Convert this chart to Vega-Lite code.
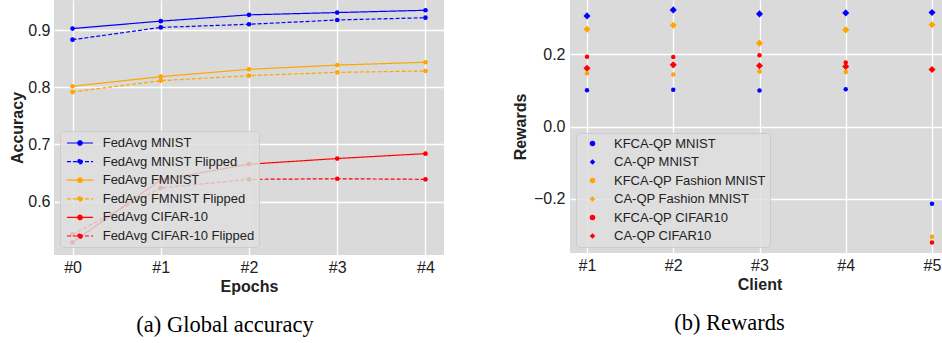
{
  "$schema": "https://vega.github.io/schema/vega-lite/v6.json",
  "background": "white",
  "padding": {"left": 9, "top": 0, "right": 0, "bottom": 0},
  "spacing": 68,
  "config": {
    "font": "Liberation Sans",
    "view": {"stroke": null, "fill": "#dadada"},
    "axis": {
      "gridColor": "white", "gridWidth": 1.3, "domain": false, "ticks": false,
      "labelFontSize": 16, "labelColor": "#222", "titleFontSize": 16,
      "titleFontWeight": "bold", "titleColor": "#222", "labelPadding": 4
    },
    "title": {"font": "Liberation Serif", "fontSize": 22.5, "fontWeight": "normal", "color": "black"}
  },
  "resolve": {"scale": {"color": "independent", "strokeDash": "independent", "shape": "independent"}, "legend": {"color": "independent"}},
  "datasets": {
    "acc": [
      {"epoch": "#0", "series": "FedAvg MNIST", "acc": 0.903},
      {"epoch": "#1", "series": "FedAvg MNIST", "acc": 0.916},
      {"epoch": "#2", "series": "FedAvg MNIST", "acc": 0.927},
      {"epoch": "#3", "series": "FedAvg MNIST", "acc": 0.931},
      {"epoch": "#4", "series": "FedAvg MNIST", "acc": 0.935},
      {"epoch": "#0", "series": "FedAvg MNIST Flipped", "acc": 0.8835},
      {"epoch": "#1", "series": "FedAvg MNIST Flipped", "acc": 0.905},
      {"epoch": "#2", "series": "FedAvg MNIST Flipped", "acc": 0.9105},
      {"epoch": "#3", "series": "FedAvg MNIST Flipped", "acc": 0.918},
      {"epoch": "#4", "series": "FedAvg MNIST Flipped", "acc": 0.922},
      {"epoch": "#0", "series": "FedAvg FMNIST", "acc": 0.802},
      {"epoch": "#1", "series": "FedAvg FMNIST", "acc": 0.8187},
      {"epoch": "#2", "series": "FedAvg FMNIST", "acc": 0.8316},
      {"epoch": "#3", "series": "FedAvg FMNIST", "acc": 0.839},
      {"epoch": "#4", "series": "FedAvg FMNIST", "acc": 0.844},
      {"epoch": "#0", "series": "FedAvg FMNIST Flipped", "acc": 0.792},
      {"epoch": "#1", "series": "FedAvg FMNIST Flipped", "acc": 0.8117},
      {"epoch": "#2", "series": "FedAvg FMNIST Flipped", "acc": 0.8205},
      {"epoch": "#3", "series": "FedAvg FMNIST Flipped", "acc": 0.8263},
      {"epoch": "#4", "series": "FedAvg FMNIST Flipped", "acc": 0.8287},
      {"epoch": "#0", "series": "FedAvg CIFAR-10", "acc": 0.5286},
      {"epoch": "#1", "series": "FedAvg CIFAR-10", "acc": 0.638},
      {"epoch": "#2", "series": "FedAvg CIFAR-10", "acc": 0.6655},
      {"epoch": "#3", "series": "FedAvg CIFAR-10", "acc": 0.6754},
      {"epoch": "#4", "series": "FedAvg CIFAR-10", "acc": 0.684},
      {"epoch": "#0", "series": "FedAvg CIFAR-10 Flipped", "acc": 0.5427},
      {"epoch": "#1", "series": "FedAvg CIFAR-10 Flipped", "acc": 0.624},
      {"epoch": "#2", "series": "FedAvg CIFAR-10 Flipped", "acc": 0.639},
      {"epoch": "#3", "series": "FedAvg CIFAR-10 Flipped", "acc": 0.64},
      {"epoch": "#4", "series": "FedAvg CIFAR-10 Flipped", "acc": 0.639}
    ],
    "rew": [
      {"client": "#1", "series": "KFCA-QP MNIST", "reward": 0.1006},
      {"client": "#2", "series": "KFCA-QP MNIST", "reward": 0.1015},
      {"client": "#3", "series": "KFCA-QP MNIST", "reward": 0.0996},
      {"client": "#4", "series": "KFCA-QP MNIST", "reward": 0.1033},
      {"client": "#5", "series": "KFCA-QP MNIST", "reward": -0.2137},
      {"client": "#1", "series": "CA-QP MNIST", "reward": 0.306},
      {"client": "#2", "series": "CA-QP MNIST", "reward": 0.3226},
      {"client": "#3", "series": "CA-QP MNIST", "reward": 0.3116},
      {"client": "#4", "series": "CA-QP MNIST", "reward": 0.3143},
      {"client": "#5", "series": "CA-QP MNIST", "reward": 0.3152},
      {"client": "#1", "series": "KFCA-QP Fashion MNIST", "reward": 0.147},
      {"client": "#2", "series": "KFCA-QP Fashion MNIST", "reward": 0.144},
      {"client": "#3", "series": "KFCA-QP Fashion MNIST", "reward": 0.152},
      {"client": "#4", "series": "KFCA-QP Fashion MNIST", "reward": 0.151},
      {"client": "#5", "series": "KFCA-QP Fashion MNIST", "reward": -0.305},
      {"client": "#1", "series": "CA-QP Fashion MNIST", "reward": 0.269},
      {"client": "#2", "series": "CA-QP Fashion MNIST", "reward": 0.28},
      {"client": "#3", "series": "CA-QP Fashion MNIST", "reward": 0.2306},
      {"client": "#4", "series": "CA-QP Fashion MNIST", "reward": 0.2674},
      {"client": "#5", "series": "CA-QP Fashion MNIST", "reward": 0.2815},
      {"client": "#1", "series": "KFCA-QP CIFAR10", "reward": 0.193},
      {"client": "#2", "series": "KFCA-QP CIFAR10", "reward": 0.192},
      {"client": "#3", "series": "KFCA-QP CIFAR10", "reward": 0.1974},
      {"client": "#4", "series": "KFCA-QP CIFAR10", "reward": 0.177},
      {"client": "#5", "series": "KFCA-QP CIFAR10", "reward": -0.3207},
      {"client": "#1", "series": "CA-QP CIFAR10", "reward": 0.161},
      {"client": "#2", "series": "CA-QP CIFAR10", "reward": 0.1706},
      {"client": "#3", "series": "CA-QP CIFAR10", "reward": 0.168},
      {"client": "#4", "series": "CA-QP CIFAR10", "reward": 0.166},
      {"client": "#5", "series": "CA-QP CIFAR10", "reward": 0.1577}
    ]
  },
  "hconcat": [
    {
      "width": 390,
      "height": 255,
      "title": {"text": "(a) Global accuracy", "orient": "bottom", "dx": -24, "offset": 20},
      "data": {"name": "acc"},
      "mark": {"type": "line", "strokeWidth": 1.2, "point": {"filled": true, "size": 22}},
      "encoding": {
        "x": {"field": "epoch", "type": "ordinal", "scale": {"type": "point", "padding": 0.21},
              "axis": {"title": "Epochs", "labelAngle": 0, "grid": true, "titlePadding": 3}},
        "y": {"field": "acc", "type": "quantitative", "scale": {"domain": [0.5065, 0.953], "nice": false, "zero": false},
              "axis": {"title": "Accuracy", "values": [0.6, 0.7, 0.8, 0.9], "format": ".1f", "titlePadding": 2}},
        "color": {"field": "series", "type": "nominal",
          "scale": {"domain": ["FedAvg MNIST", "FedAvg MNIST Flipped", "FedAvg FMNIST", "FedAvg FMNIST Flipped", "FedAvg CIFAR-10", "FedAvg CIFAR-10 Flipped"],
                    "range": ["#0000ff", "#0000ff", "#ffa500", "#ffa500", "#ff0000", "#ff0000"]},
          "legend": {"title": null, "orient": "none", "legendX": 6, "legendY": 131,
            "fillColor": "rgba(222,222,222,0.82)", "strokeColor": "#cccccc", "cornerRadius": 3, "padding": 4,
            "labelFontSize": 13, "labelColor": "#222", "rowPadding": 3.6,
            "symbolType": "M-1.86,0L1.86,0M0.32,0A0.32,0.32,0,1,1,-0.32,0A0.32,0.32,0,1,1,0.32,0Z",
            "symbolSize": 196, "symbolOffset": 8, "labelOffset": 14.7, "symbolStrokeWidth": 1.2,
            "encode": {"symbols": {"update": {"fill": {"signal": "indexof(datum.value, 'CIFAR') >= 0 ? '#ff0000' : (indexof(datum.value, 'FMNIST') >= 0 ? '#ffa500' : '#0000ff')"}}}}}},
        "strokeDash": {"field": "series", "type": "nominal",
          "scale": {"domain": ["FedAvg MNIST", "FedAvg MNIST Flipped", "FedAvg FMNIST", "FedAvg FMNIST Flipped", "FedAvg CIFAR-10", "FedAvg CIFAR-10 Flipped"],
                    "range": [[1, 0], [4, 2], [1, 0], [4, 2], [1, 0], [4, 2]]}}
      }
    },
    {
      "width": 379,
      "height": 253,
      "title": {"text": "(b) Rewards", "orient": "bottom", "dx": -30, "offset": 20},
      "data": {"name": "rew"},
      "encoding": {
        "x": {"field": "client", "type": "ordinal", "scale": {"type": "point", "padding": 0.197},
              "axis": {"title": "Client", "labelAngle": 0, "grid": true, "titlePadding": 3}},
        "y": {"field": "reward", "type": "quantitative", "scale": {"domain": [-0.35, 0.35], "nice": false, "zero": false},
              "axis": {"title": "Rewards", "values": [-0.2, 0, 0.2], "format": ".1f", "titlePadding": 5, "labelPadding": 5}},
        "color": {"field": "series", "type": "nominal",
          "scale": {"domain": ["KFCA-QP MNIST", "CA-QP MNIST", "KFCA-QP Fashion MNIST", "CA-QP Fashion MNIST", "KFCA-QP CIFAR10", "CA-QP CIFAR10"],
                    "range": ["#0000ff", "#0000ff", "#ffa500", "#ffa500", "#ff0000", "#ff0000"]},
          "legend": {"title": null, "orient": "none", "legendX": 6, "legendY": 133,
            "fillColor": "rgba(222,222,222,0.82)", "strokeColor": "#cccccc", "cornerRadius": 3, "padding": 4,
            "labelFontSize": 13, "labelColor": "#222", "rowPadding": 4.5, "symbolSize": 30,
            "symbolOffset": 6, "labelOffset": 15,
            "encode": {"symbols": {"update": {"size": {"signal": "indexof(datum.value, 'KFCA') == 0 ? 20 : 48"}}}}}},
        "shape": {"field": "series", "type": "nominal",
          "scale": {"domain": ["KFCA-QP MNIST", "CA-QP MNIST", "KFCA-QP Fashion MNIST", "CA-QP Fashion MNIST", "KFCA-QP CIFAR10", "CA-QP CIFAR10"],
                    "range": ["circle", "diamond", "circle", "diamond", "circle", "diamond"]}}
      },
      "layer": [
        {"transform": [{"filter": "indexof(datum.series, 'KFCA') == 0"}],
         "mark": {"type": "point", "filled": true, "opacity": 1, "size": 20}},
        {"transform": [{"filter": "indexof(datum.series, 'CA-QP') == 0"}],
         "mark": {"type": "point", "filled": true, "opacity": 1, "size": 50}}
      ]
    }
  ]
}
